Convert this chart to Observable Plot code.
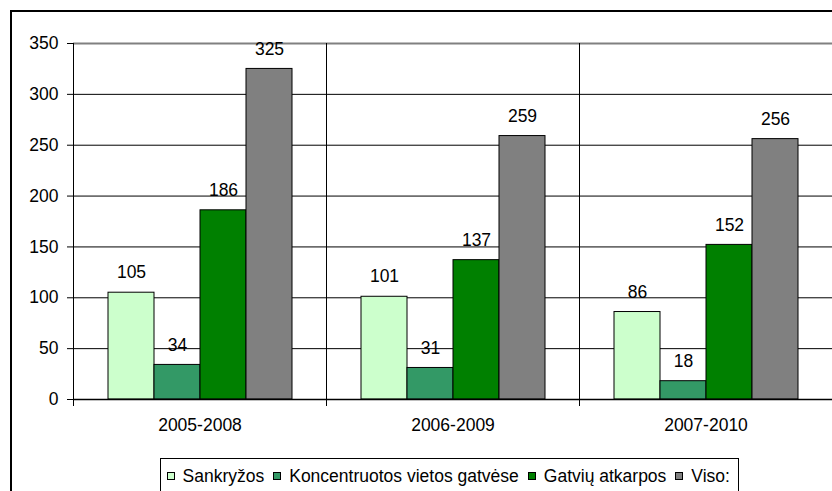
<!DOCTYPE html>
<html>
<head>
<meta charset="utf-8">
<script src="https://cdn.jsdelivr.net/npm/d3@7"></script>
<script src="https://cdn.jsdelivr.net/npm/@observablehq/plot@0.6"></script>
<style>
  html, body { margin: 0; padding: 0; background: white; overflow: hidden; }
  #wrap { position: relative; width: 832px; height: 491px; }
  #border { position: absolute; left: 10px; top: 10px; width: 900px; height: 600px;
            border: 2px solid black; box-sizing: border-box; }
  #chart { position: absolute; left: 0; top: 0; }
  #legend { position: absolute; left: 160px; top: 458px; width: 579px; height: 60px;
            border: 1.5px solid black; box-sizing: border-box; padding: 5px 0 0 5.5px;
            font-family: "Liberation Sans", Arial, sans-serif; font-size: 17.5px; line-height: 20px;
            white-space: nowrap; background: white; }
  .item { display: inline-flex; align-items: center; margin-right: 9px; }
  .sw { width: 6px; height: 6px; border: 1px solid black; margin-right: 8px; }
</style>
</head>
<body>
<div id="wrap">
  <div id="border"></div>
  <div id="chart"></div>
  <div id="legend"></div>
</div>
<script>
// Periods on the x axis
const periods = ["2005-2008", "2006-2009", "2007-2010"];
// Series names and their fills
const series = ["Sankryžos", "Koncentruotos vietos gatvėse", "Gatvių atkarpos", "Viso:"];
const colors = ["#CCFFCC", "#339966", "#008000", "#808080"];
// Values per series, one per period
const sankryzos = [105, 101, 86];
const koncentruotos = [34, 31, 18];
const atkarpos = [186, 137, 152];
const viso = [325, 259, 256];
// Y axis ticks
const yTicks = [0, 50, 100, 150, 200, 250, 300, 350];

const seriesValues = [sankryzos, koncentruotos, atkarpos, viso];
const rows = periods.flatMap((p, i) =>
  series.map((s, j) => ({period: p, series: s, value: seriesValues[j][i]})));

const chart = Plot.plot({
  width: 832,
  height: 450,
  marginLeft: 72,
  marginRight: 0,
  marginTop: 43,
  marginBottom: 51,
  style: {fontFamily: "'Liberation Sans', Arial, sans-serif", fontSize: "17.5px",
          background: "transparent", overflow: "visible", maxWidth: "none"},
  fx: {domain: periods, padding: 0, label: null},
  x: {domain: series, paddingInner: 0, paddingOuter: 0.735, axis: null},
  y: {domain: [0, 350], label: null},
  color: {domain: series, range: colors},
  marks: [
    Plot.ruleY(yTicks.filter(d => d > 0 && d < 350), {stroke: "black"}),
    Plot.ruleY([350], {stroke: "#808080", strokeWidth: 2}),
    Plot.frame({anchor: "left", insetBottom: -6, stroke: "black"}),
    Plot.barY(rows, {fx: "period", x: "series", y: "value", fill: "series", stroke: "black"}),
    Plot.text(rows, {fx: "period", x: "series", y: "value", text: d => String(d.value),
                     dy: -20, fill: "black"}),
    Plot.ruleY([0], {stroke: "black", strokeWidth: 1.5}),
    Plot.axisY({ticks: yTicks, tickSize: 6, tickPadding: 9, label: null}),
    Plot.axisFx({anchor: "bottom", tickSize: 0, tickPadding: 19, label: null})
  ]
});
document.getElementById("chart").appendChild(chart);

// Legend row
const legend = document.getElementById("legend");
series.forEach((s, i) => {
  const item = document.createElement("span");
  item.className = "item";
  const sw = document.createElement("span");
  sw.className = "sw";
  sw.style.background = colors[i];
  const label = document.createElement("span");
  label.textContent = s;
  item.appendChild(sw);
  item.appendChild(label);
  legend.appendChild(item);
});
</script>
</body>
</html>
